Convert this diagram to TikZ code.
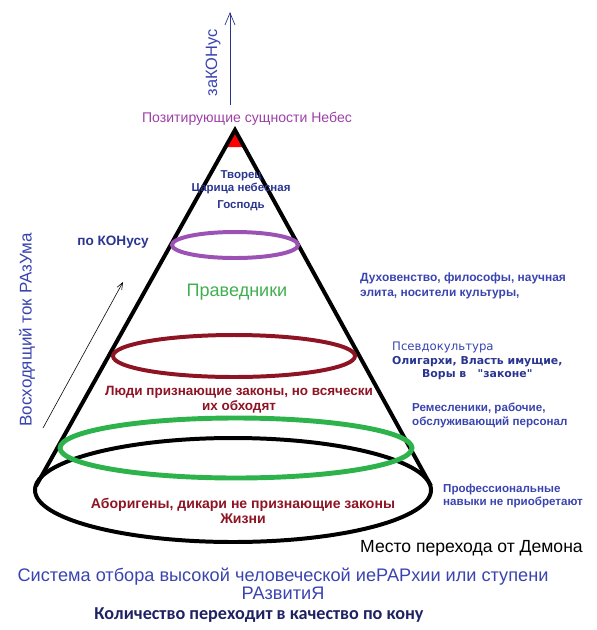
\documentclass[tikz,border=0pt]{standalone}
\usepackage{fontspec}
\setmainfont{Liberation Sans}
\newfontfamily\tahfont{DejaVu Sans}
\newfontfamily\calfont{Carlito}
\usetikzlibrary{arrows.meta}
\definecolor{cblue}{HTML}{3A44B0}
\definecolor{cnavy}{HTML}{2A3590}
\definecolor{cpurple}{HTML}{9E3FA8}
\definecolor{cring}{HTML}{9B52B4}
\definecolor{cmaroon}{HTML}{8E1424}
\definecolor{cgreen}{HTML}{2EB34C}
\definecolor{cgtext}{HTML}{3FAF50}
\definecolor{cink}{HTML}{1E2262}
\tikzset{
  every picture/.style={x=0.03cm, y=-0.03cm},
  cone/.style={draw=black, line width=3.4pt},
  ring/.style={draw=#1, line width=3.4pt},
  lbl/.style={text=#1, align=center, inner sep=0pt},
  lbl/.default=black,
  side/.style={text=#1, align=left, inner sep=0pt, anchor=west},
  upar/.style={-{Straight Barb[length=3.6mm, width=3mm]}, draw=cnavy, line width=0.6pt},
  thin/.style={-{Straight Barb[length=2mm, width=1.6mm]}, draw=black, line width=0.5pt},
}
\newcommand{\fs}[1]{\fontsize{#1}{1.2\dimexpr#1pt\relax}\selectfont}

\begin{document}
\begin{tikzpicture}
  \useasboundingbox (0,0) rectangle (597,630);
  % cone and its rings
  \coordinate (apex) at (235,130);
  \coordinate (bl) at (36,486);
  \coordinate (br) at (431,486);
  \fill[red] (apex) -- (225,147) -- (245,147) -- cycle;
  \draw[cone] (233,490) ellipse [x radius=198, y radius=52];
  \draw[cone] (bl) -- (apex) -- (br);
  \draw[ring=cring] (235,245) ellipse [x radius=63, y radius=13];
  \draw[ring=cmaroon] (234,356) ellipse [x radius=121, y radius=21];
  \draw[ring=cgreen, line width=4.2pt] (236,448) ellipse [x radius=176, y radius=30];

  % top
  \node[lbl=cpurple, font=\fs{12}] (heaven) at (247,119) {Позитирующие сущности Небес};
  \node[lbl=cblue, rotate=90, font=\fs{14}] (zakon) at (213,63) {заКОНус};
  \coordinate (up0) at (230,105);
  \coordinate (up1) at (230,12);
  \draw[upar] (up0) -- (up1);

  % inside the cone
  \node[lbl=cnavy, font=\bfseries\fs{9.8}] (lord) at (241,191) {Творец\\[-1pt]Царица небесная\\[3pt]Господь};
  \node[lbl=cgtext, font=\fs{15.4}] (just) at (237,292) {Праведники};
  \node[lbl=cmaroon, font=\bfseries\fs{11.5}] (people) at (239,400) {Люди признающие законы, но всячески\\[-1pt]их обходят};
  \node[lbl=cmaroon, font=\bfseries\fs{12}] (wild) at (243,511) {Аборигены, дикари не признающие законы\\[-2pt]Жизни};

  % left
  \node[lbl=cblue, rotate=90, font=\fs{14.5}] (mind) at (27,330) {Восходящий ток РАзУма};
  \node[lbl=cnavy, font=\bfseries\fs{11.6}] (pokon) at (113,242) {по КОНусу};
  \coordinate (rise0) at (43,428);
  \coordinate (rise1) at (123,282);
  \draw[thin] (rise0) -- (rise1);

  % right
  \node[side=cblue, font=\bfseries\fs{10.2}] (clergy) at (360,286) {Духовенство, философы, научная\\элита, носители культуры,};
  \node[side=cblue, font=\tahfont\fs{10}] (pseudo) at (392,347) {Псевдокультура};
  \node[lbl=cnavy, font=\tahfont\bfseries\fs{9.3}, anchor=north west] (olig) at (392,356) {Олигархи, Власть имущие,\\Воры в \ \ "законе"};
  \node[side=cblue, font=\bfseries\fs{9.9}] (craft) at (412,415) {Ремесленики, рабочие,\\обслуживающий персонал};
  \node[side=cblue, font=\bfseries\fs{9.9}] (prof) at (443,496) {Профессиональные\\навыки не приобретают};

  % bottom
  \node[lbl, font=\fs{15}, anchor=east] (demon) at (583,548) {Место перехода от Демона};
  \node[lbl=cblue, font=\fs{15.5}] (system) at (283,584) {Система отбора высокой человеческой иеРАРхии или ступени\\[-3pt]РАзвитиЯ};
  \node[lbl=cink, font=\calfont\bfseries\fs{15.5}] (qual) at (259,615) {Количество переходит в качество по кону};
\end{tikzpicture}
\end{document}
